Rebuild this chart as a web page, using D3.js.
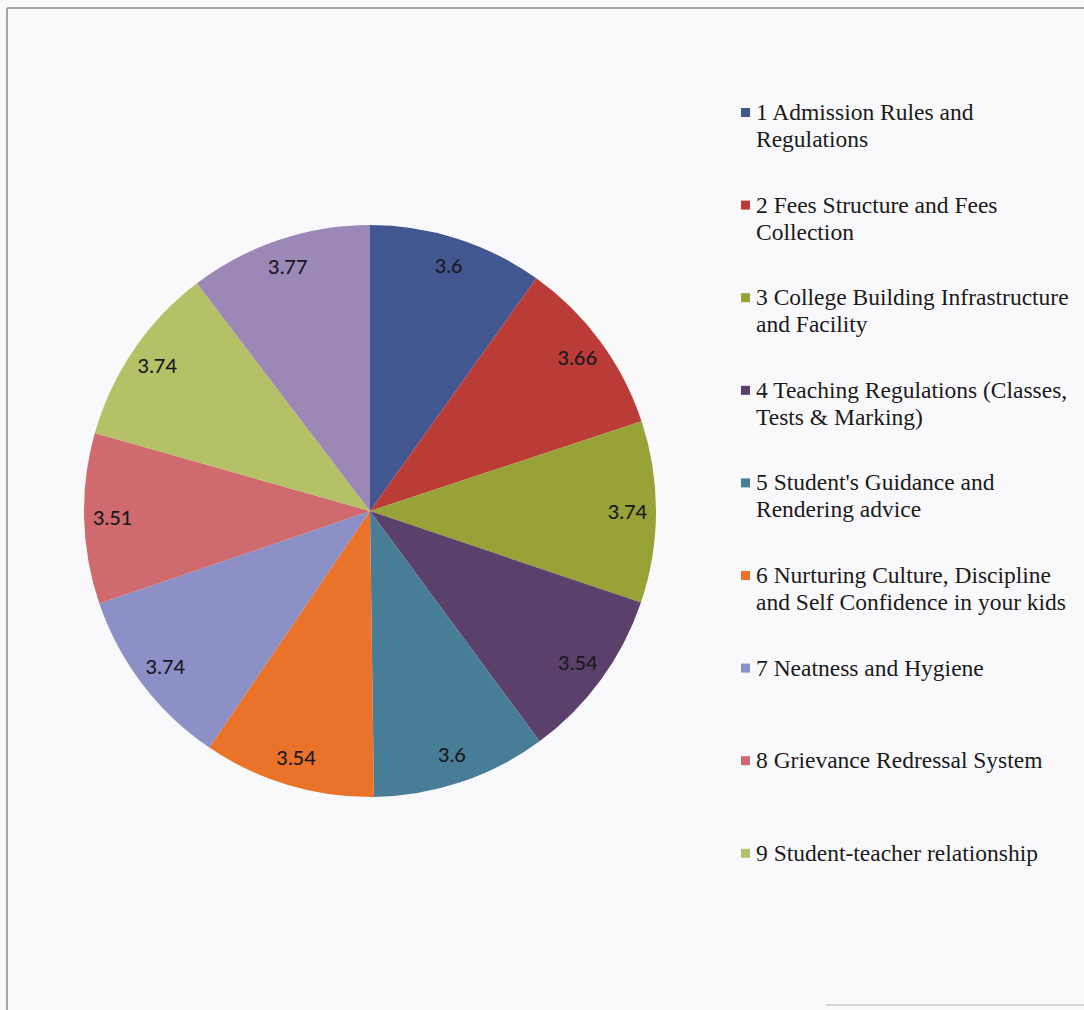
<!DOCTYPE html>
<html>
<head>
<meta charset="utf-8">
<script src="https://cdn.jsdelivr.net/npm/d3@7"></script>
<style>
  body { margin: 0; background: #f9f9fb; }
  svg { display: block; }
</style>
</head>
<body>
<div id="chart"></div>
<script>
(function() {

// data
const categories = [
  "1 Admission Rules and|Regulations",
  "2 Fees Structure and Fees|Collection",
  "3 College Building Infrastructure|and Facility",
  "4 Teaching Regulations (Classes,|Tests & Marking)",
  "5 Student's Guidance and|Rendering advice",
  "6 Nurturing Culture, Discipline|and Self Confidence in your kids",
  "7 Neatness and Hygiene",
  "8 Grievance Redressal System",
  "9 Student-teacher relationship",
  "10"
];
const values = [3.6, 3.66, 3.74, 3.54, 3.6, 3.54, 3.74, 3.51, 3.74, 3.77];
const colors = ["#42568f", "#bb3b37", "#98a236", "#5b406c", "#487d97",
                "#ea7329", "#8d8fc7", "#cf6b6f", "#b4c166", "#9c88b6"];

const W = 1084, H = 1010;
const cx = 370, cy = 511, r = 286;

const svg = d3.select("#chart")
  .append("svg")
  .attr("width", W)
  .attr("height", H);

// frame (only top/left fully visible in the scan)
svg.append("line").attr("x1", 7).attr("y1", 8).attr("x2", W).attr("y2", 8)
  .attr("stroke", "#8a8a8a").attr("stroke-width", 1.5);
svg.append("line").attr("x1", 7).attr("y1", 8).attr("x2", 7).attr("y2", H)
  .attr("stroke", "#8a8a8a").attr("stroke-width", 1.5);
svg.append("line").attr("x1", 826).attr("y1", 1005).attr("x2", W).attr("y2", 1005)
  .attr("stroke", "#c8c8c8").attr("stroke-width", 1.5);

const data = values.map((v, i) => ({ name: categories[i], value: v, color: colors[i] }));

const pie = d3.pie().sort(null).value(d => d.value);
const arc = d3.arc().innerRadius(0).outerRadius(r);
const labelArc = d3.arc().innerRadius(r * 0.9).outerRadius(r * 0.9);

const g = svg.append("g").attr("transform", `translate(${cx},${cy})`);
const arcs = pie(data);

g.selectAll("path")
  .data(arcs)
  .join("path")
  .attr("d", arc)
  .attr("fill", d => d.data.color);

g.selectAll("text")
  .data(arcs)
  .join("text")
  .attr("transform", d => `translate(${labelArc.centroid(d)})`)
  .attr("text-anchor", "middle")
  .attr("dy", "0.35em")
  .style("font-family", "Lato, 'Open Sans', sans-serif")
  .style("font-size", "20px")
  .style("font-weight", "500")
  .style("fill", "#181820")
  .text(d => d.data.value);

// legend: only the first nine entries fit in the frame
const legend = svg.append("g").attr("transform", "translate(741,112)");
const item = legend.selectAll("g")
  .data(data.slice(0, 9))
  .join("g")
  .attr("transform", (d, i) => `translate(0,${i * 92.6})`);

item.append("rect")
  .attr("x", 0).attr("y", -4)
  .attr("width", 9).attr("height", 9)
  .attr("fill", d => d.color);

item.append("text")
  .attr("x", 15)
  .attr("y", 8)
  .style("font-family", "'Liberation Serif', 'Times New Roman', serif")
  .style("font-size", "23.5px")
  .style("fill", "#1a1a1a")
  .selectAll("tspan")
  .data(d => d.name.split("|"))
  .join("tspan")
  .attr("x", 15)
  .attr("dy", (d, i) => i === 0 ? 0 : 27)
  .text(d => d);

})();
</script>
</body>
</html>
